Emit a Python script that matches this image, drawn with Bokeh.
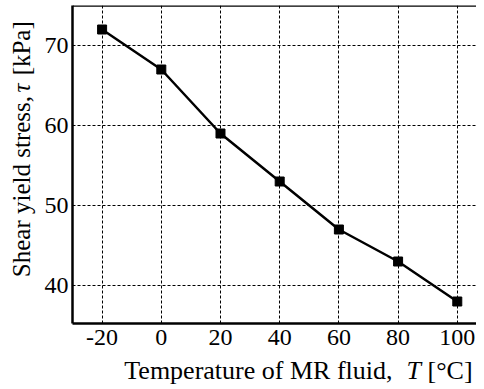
import math
from bokeh.plotting import figure
from bokeh.embed import file_html
from bokeh.resources import INLINE
from bokeh.layouts import column, row
from bokeh.models import Range1d, FixedTicker, Span
from bokeh.core.properties import value

temps = [-20, 0, 20, 40, 60, 80, 100]
stress = [72, 67, 59, 53, 47, 43, 38]
x_ticks = [-20, 0, 20, 40, 60, 80, 100]
x_tick_labels = ["-20", "0", "20", "40", "60", "80", "100"]
y_ticks = [40, 50, 60, 70]
x_title = ["Temperature of MR fluid,", "T", "[°C]"]
y_title = ["Shear yield stress,", "τ", "[kPa]"]

FONT = "Liberation Serif"
MAIN_H = 355

# ---------------- main plot ----------------
p = figure(width=440, height=MAIN_H, output_backend="svg", toolbar_location=None,
           x_range=Range1d(-30, 106.49), y_range=Range1d(35.25, 75),
           min_border_left=36, min_border_right=0, min_border_top=5, min_border_bottom=32)

p.line(temps, stress, line_color="black", line_width=2.5)
p.scatter(temps, stress, marker="square", size=9, color="black")

p.outline_line_color = None
for ax in (p.xaxis, p.yaxis):
    ax.axis_line_color = "black"
    ax.axis_line_width = 2.5
    ax.major_tick_line_color = None
    ax.minor_tick_line_color = None
    ax.major_tick_out = 0
    ax.major_tick_in = 0
    ax.minor_tick_out = 0
    ax.major_label_text_font = FONT
    ax.major_label_text_font_size = "24px"
    ax.major_label_text_color = "black"
p.add_layout(Span(location=75, dimension="width", line_color="black", line_width=2.5))

p.xaxis.ticker = FixedTicker(ticks=x_ticks)
p.xaxis.major_label_overrides = {t: s for t, s in zip(x_ticks, x_tick_labels)}
p.yaxis.ticker = FixedTicker(ticks=y_ticks)
p.xaxis.major_label_standoff = 6
p.yaxis.major_label_standoff = 4

p.grid.grid_line_color = "black"
p.grid.grid_line_width = 1
p.grid.grid_line_dash = "3 2"
p.grid.grid_line_alpha = 1.0
p.xgrid.ticker = FixedTicker(ticks=x_ticks)
p.ygrid.ticker = FixedTicker(ticks=y_ticks)
p.background_fill_color = "white"
p.border_fill_color = "white"


def label_fig(w, h):
    f = figure(width=w, height=h, output_backend="svg", toolbar_location=None,
               x_range=Range1d(0, w), y_range=Range1d(h, 0),
               x_axis_type=None, y_axis_type=None,
               min_border_left=0, min_border_right=0, min_border_top=0, min_border_bottom=0)
    f.outline_line_color = None
    f.background_fill_color = "white"
    f.border_fill_color = "white"
    return f


# ---------------- y-axis title ----------------
ly = label_fig(36, MAIN_H)
ykw = dict(angle=math.pi / 2, text_font=value(FONT), text_font_size="25px",
           text_color="black", text_baseline="alphabetic")
ly.text(x=[21], y=[101], text=[y_title[0]], text_align="right", **ykw)
ly.text(x=[21], y=[97], text=[y_title[1]], text_align="left", text_font_style="italic", **ykw)
ly.text(x=[21], y=[78], text=[y_title[2]], text_align="left", **ykw)

# ---------------- x-axis title ----------------
lx = label_fig(476, 33)
xkw = dict(text_font=value(FONT), text_font_size="26px", text_color="black",
           text_baseline="alphabetic")
lx.text(x=[392], y=[15], text=[x_title[0]], text_align="right", **xkw)
lx.text(x=[406], y=[15], text=[x_title[1]], text_align="left", text_font_style="italic", **xkw)
lx.text(x=[427], y=[15], text=[x_title[2]], text_align="left", **xkw)

layout = column(row(ly, p, spacing=0), lx, spacing=0)

open("out.html", "w").write(file_html(layout, INLINE))
